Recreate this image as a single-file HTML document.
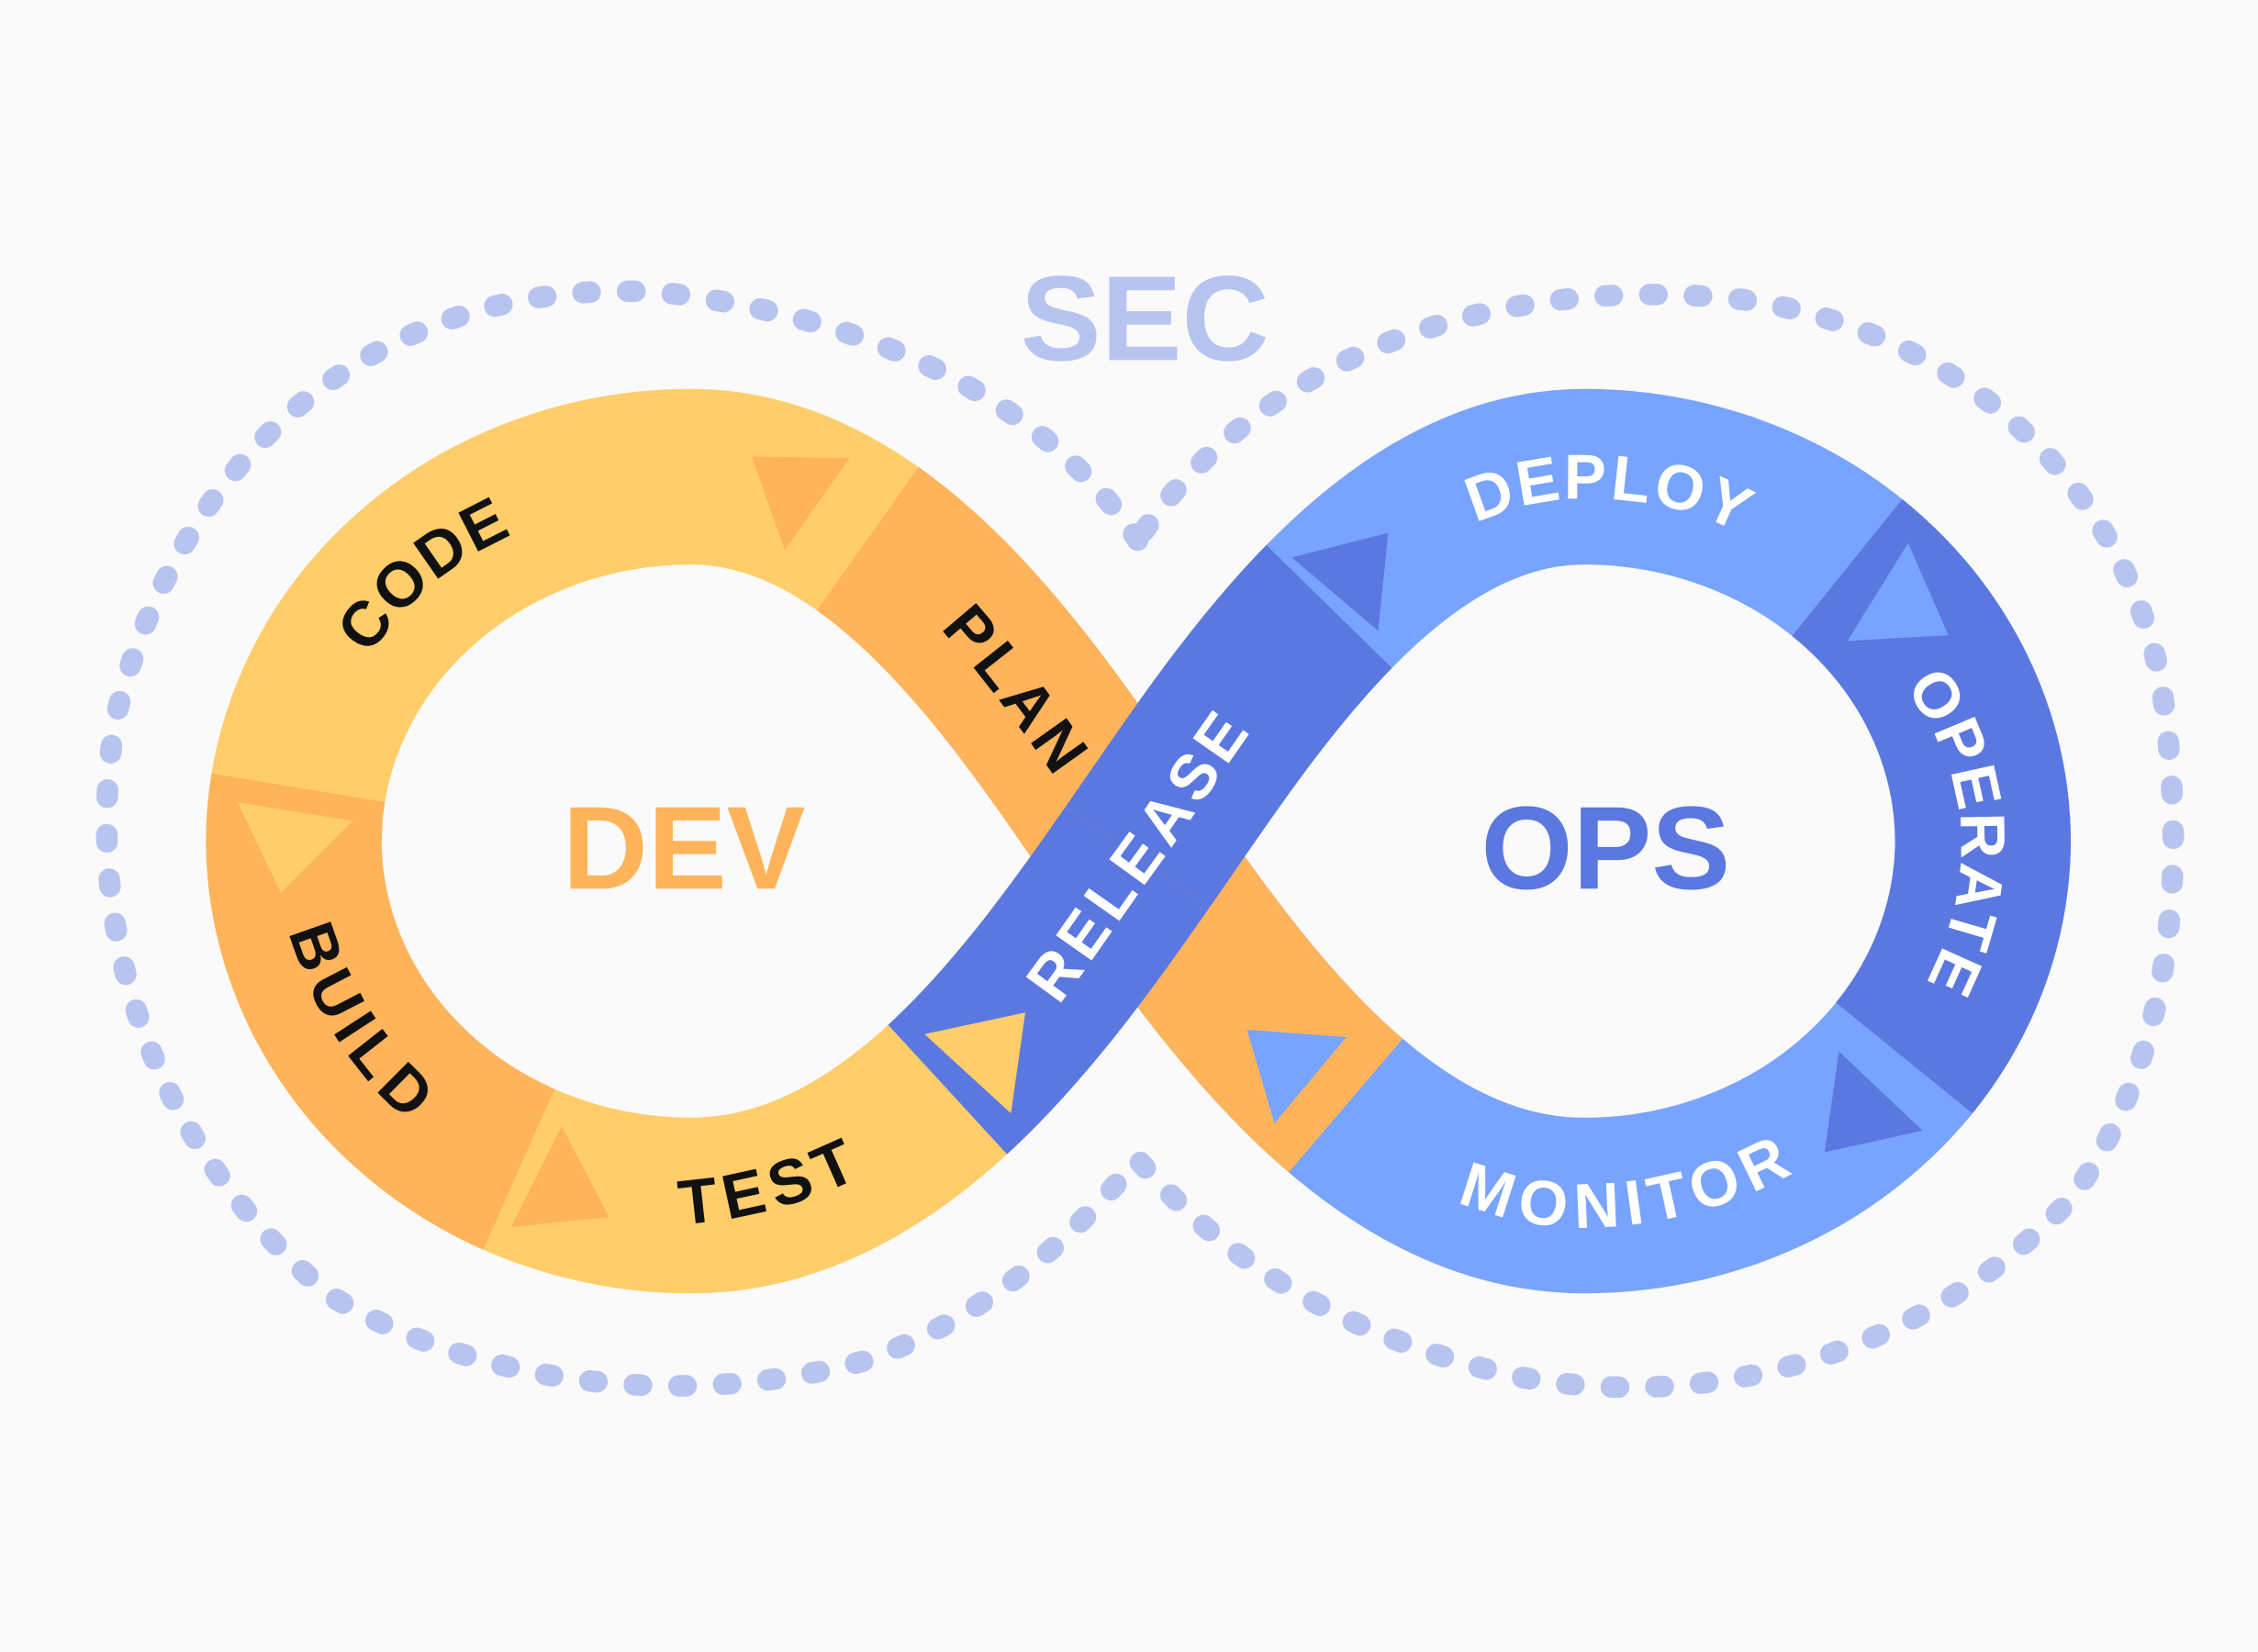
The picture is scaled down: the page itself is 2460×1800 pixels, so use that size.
<!DOCTYPE html>
<html><head><meta charset="utf-8"><style>
html,body{margin:0;padding:0;background:#fafafa;}
svg{display:block;}
text{font-family:"Liberation Sans",sans-serif;font-weight:bold;}
</style></head><body>
<svg width="2460" height="1800" viewBox="0 0 1568 1147" preserveAspectRatio="none" xmlns="http://www.w3.org/2000/svg">
<rect width="1568" height="1147" fill="#fafafa"/>
<defs>
<path id="L" d="M 790,595 C 720,495 620,331 480,331 A 276 254 0 0 0 204,585 A 276 254 0 0 0 480,837 C 620,837 720,695 790,595"/>
<path id="R" d="M 790,595 C 860,495 960,331 1100,331 A 277 254 0 0 1 1377,585 A 277 254 0 0 1 1100,837 C 960,837 860,695 790,595"/>
<path id="pCode" d="M 206,570 C 215,420 330,331 480,331"/>
<path id="pPlan" d="M 584,358 C 660,400 730,510 790,595"/>
<path id="pBuild" d="M 206,560 C 200,700 300,800 400,826"/>
<path id="pTest" d="M 360,818 C 440,850 560,842 662,757"/>
<path id="pRel" d="M 662,757 C 710,715 750,650 790,595 C 830,540 870,470 917,427"/>
<path id="pDep" d="M 917,427 C 980,360 1040,331 1100,331 C 1170,331 1230,350 1283,415"/>
<path id="pOp" d="M 1283,415 C 1350,470 1377,530 1377,585 C 1377,650 1350,700 1316,742"/>
<path id="pMon" d="M 922,762 C 970,800 1030,837 1100,837 C 1180,837 1260,800 1316,742"/>
</defs>
<path d="M 790,375 C 740,300 640,225 460,203 C 250,190 120,330 80,500 C 55,650 110,800 230,900 C 330,960 470,980 600,945 C 700,910 760,840 790,805 C 830,850 900,920 1050,955 C 1200,985 1350,930 1440,830 C 1510,730 1520,600 1500,470 C 1470,330 1360,230 1210,208 C 1050,190 880,240 790,375 Z" fill="none" stroke="#b8c4f0" stroke-width="15" stroke-linecap="round" stroke-dasharray="5 26"/>
<text x="795" y="250" font-size="84" fill="#b8c4f0" text-anchor="middle">SEC</text>
<g fill="none" stroke-width="122" stroke-linecap="butt">
<use href="#L" stroke="#ffcd69"/>
<use href="#R" stroke="#78a4ff"/>
<path d="M 790,595 C 720,495 620,331 480,331 A 276 254 0 0 0 204,585 A 276 254 0 0 0 480,837 C 620,837 720,695 790,595" pathLength="1610" stroke="#ffb35a" stroke-dasharray="0 0 282 5000"/>
<path d="M 790,595 C 860,495 960,331 1100,331 A 277 254 0 0 1 1377,585 A 277 254 0 0 1 1100,837 C 960,837 860,695 790,595" pathLength="1610" stroke="#ffb35a" stroke-dasharray="0 1392 220 5000"/>
<path d="M 790,595 C 720,495 620,331 480,331 A 276 254 0 0 0 204,585 A 276 254 0 0 0 480,837 C 620,837 720,695 790,595" pathLength="1610" stroke="#ffb35a" stroke-dasharray="0 776 319 5000"/>
<path d="M 790,595 C 860,495 960,331 1100,331 A 277 254 0 0 1 1377,585 A 277 254 0 0 1 1100,837 C 960,837 860,695 790,595" pathLength="1610" stroke="#5a78e0" stroke-dasharray="0 600 370 5000"/>
<path d="M 790,595 C 720,495 620,331 480,331 A 276 254 0 0 0 204,585 A 276 254 0 0 0 480,837 C 620,837 720,695 790,595" pathLength="1610" stroke="#5a78e0" stroke-dasharray="0 1408 205 5000"/>
<path d="M 790,595 C 860,495 960,331 1100,331 A 277 254 0 0 1 1377,585 A 277 254 0 0 1 1100,837 C 960,837 860,695 790,595" pathLength="1610" stroke="#5a78e0" stroke-dasharray="0 0 212 5000"/>
</g>
<polygon points="165,557 245,570 195,620" fill="#ffcd69"/>
<polygon points="355,852 423,845 390,782" fill="#ffb35a"/>
<polygon points="642,718 712,703 702,773" fill="#ffcd69"/>
<polygon points="897,387 964,370 957,438" fill="#5a78e0"/>
<polygon points="1283,445 1353,441 1325,377" fill="#78a4ff"/>
<polygon points="1267,800 1335,785 1277,730" fill="#5a78e0"/>
<polygon points="866,715 935,720 885,780" fill="#78a4ff"/>
<polygon points="522,317 590,318 545,382" fill="#ffb35a"/>
<text x="475" y="617" font-size="82" fill="#ffb35a" text-anchor="middle">DEV</text>
<text x="1115" y="617" font-size="82" fill="#5a78e0" text-anchor="middle">OPS</text>
<g font-size="44" dominant-baseline="central" letter-spacing="4">
<text fill="#111"><textPath href="#pCode" startOffset="50%" text-anchor="middle">CODE</textPath></text>
<text fill="#111"><textPath href="#pPlan" startOffset="55%" text-anchor="middle">PLAN</textPath></text>
<text fill="#111"><textPath href="#pBuild" startOffset="45%" text-anchor="middle">BUILD</textPath></text>
<text fill="#111"><textPath href="#pTest" startOffset="55%" text-anchor="middle">TEST</textPath></text>
<text fill="#fff"><textPath href="#pRel" startOffset="50%" text-anchor="middle">RELEASE</textPath></text>
<text fill="#fff"><textPath href="#pDep" startOffset="55%" text-anchor="middle">DEPLOY</textPath></text>
<text fill="#fff"><textPath href="#pOp" startOffset="52%" text-anchor="middle">OPERATE</textPath></text>
<text fill="#fff"><textPath href="#pMon" startOffset="52%" text-anchor="middle">MONITOR</textPath></text>
</g>
</svg>
</body></html>
